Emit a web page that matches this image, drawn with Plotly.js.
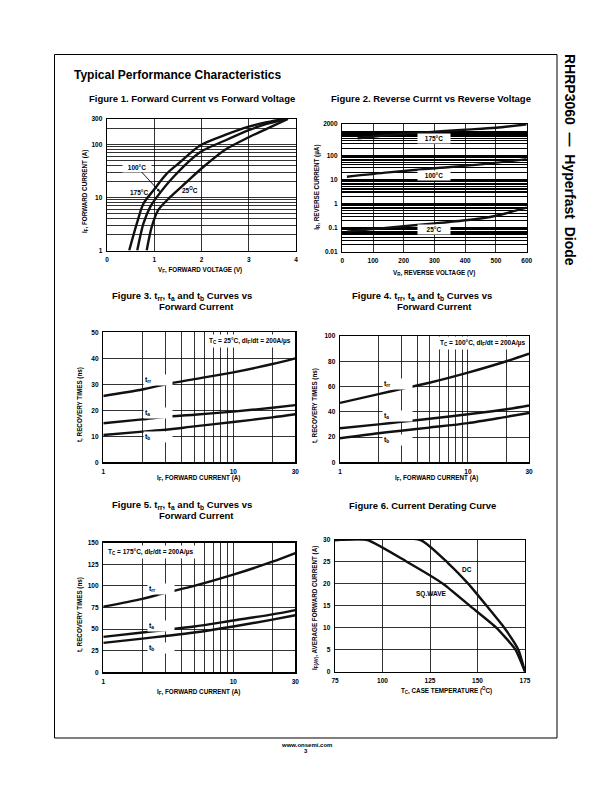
<!DOCTYPE html>
<html>
<head>
<meta charset="utf-8">
<script src="https://cdn.plot.ly/plotly-3.0.1.min.js"></script>
<style>html,body{margin:0;padding:0;background:#fff;}#chart{width:612px;height:792px;}</style>
</head>
<body>
<div id="chart"></div>
<script>
// ---------- DATA ----------
// Figure 1: forward current vs forward voltage
const vf175 = [0.47, 0.63, 0.77, 0.98, 1.26, 1.52, 1.97, 2.5, 3.0, 3.38, 3.76];
const if175 = [1, 3.2, 7.6, 13.5, 27.8, 44, 95, 150, 215, 261, 300];
const vf100 = [0.64, 0.77, 0.91, 1.05, 1.40, 1.97, 2.5, 3.0, 3.38, 3.80];
const if100 = [1, 3.2, 6.5, 10, 24, 71, 118, 185, 243, 300];
const vf25  = [0.84, 0.945, 1.08, 1.33, 1.68, 2.0, 2.5, 3.0, 3.4, 3.83];
const if25  = [1, 2.75, 5.7, 10, 19.3, 35, 79, 136, 200, 300];
const fig1XTicks = [0, 1, 2, 3, 4];
const fig1YTicks = [1, 10, 100, 300];

// Figure 2: reverse current vs reverse voltage
const vr175 = [50, 150, 300, 400, 500, 600];
const ir175 = [510, 700, 960, 1160, 1400, 1950];
const vr100 = [15, 150, 300, 450, 600];
const ir100 = [13, 19.7, 29, 42, 70];
const vr25  = [15, 150, 300, 450, 500, 600];
const ir25  = [0.068, 0.10, 0.15, 0.24, 0.31, 0.67];
const fig2XTicks = [0, 100, 200, 300, 400, 500, 600];
const fig2YTicks = [0.01, 0.1, 1, 10, 100, 2000];

// Figures 3-5: recovery times vs forward current
const ifwd = [1, 2, 3, 5, 10, 20, 30];
const trr25 = [25.5, 28, 30, 32, 34.6, 37.8, 40];
const ta25  = [15, 16.5, 17.5, 18.3, 19.5, 21, 22];
const tb25  = [10.5, 11.8, 12.5, 13.8, 15.5, 17.3, 18.5];
const trr100 = [47, 54, 58, 63, 71, 80, 86];
const ta100  = [27, 30, 32, 34.5, 38, 42, 45];
const tb100  = [19, 23, 25, 27.5, 31, 36, 39];
const trr175 = [76, 85, 92, 100, 113, 128, 138];
const ta175  = [41, 46, 49, 53, 60, 67, 72];
const tb175  = [34, 39, 42, 46, 53, 61, 66];
const ifTicks = [1, 10, 30];

// Figure 6: current derating
const dcT = [75, 120, 134.6, 145.2, 154.8, 164.1, 171.5, 175];
const dcI = [30, 30, 24.7, 20, 15, 10, 5, 0];
const sqT = [75, 92, 113, 132, 146, 160, 170, 175];
const sqI = [30, 30, 25, 20, 15, 10, 5, 0];

// ---------- HELPERS ----------
const W = 612, H = 792;
const FONT = 'Liberation Sans, Arial, Helvetica, sans-serif';
const px = v => v / W;
const py = v => 1 - v / H;
const dom = (a, b) => [px(a), px(b)];
const domY = (top, bottom) => [py(bottom), py(top)];

function logMinors(decades, extra) {
  const out = [];
  decades.forEach(d => { for (let k = 2; k <= 9; k++) out.push(+(d * k).toPrecision(3)); });
  return out.concat(extra || []);
}

const tickfont = {family: FONT, size: 6.5, color: '#000', weight: 'bold'};
function axis(o) {
  return Object.assign({
    showline: true, mirror: true, linecolor: '#000', linewidth: 1.4,
    showgrid: true, gridcolor: '#000', gridwidth: 0.8,
    zeroline: false, ticks: '', tickfont: tickfont, ticklabelstandoff: 2,
    fixedrange: true
  }, o);
}
const minorGrid = vals => ({tickmode: 'array', tickvals: vals, showgrid: true, gridcolor: '#000', gridwidth: 0.8, ticks: ''});

const curve = (x, y, xa, ya, smooth) => ({
  x: x, y: y, xaxis: xa, yaxis: ya, type: 'scatter', mode: 'lines',
  line: {color: '#111', width: 2.4, shape: 'spline', smoothing: smooth || 0.8},
  hoverinfo: 'skip'
});

const traces = [
  curve(vf175, if175, 'x', 'y'),
  curve(vf100, if100, 'x', 'y'),
  curve(vf25, if25, 'x', 'y'),
  curve(vr175, ir175, 'x2', 'y2'),
  curve(vr100, ir100, 'x2', 'y2'),
  curve(vr25, ir25, 'x2', 'y2'),
  curve(ifwd, trr25, 'x3', 'y3'),
  curve(ifwd, ta25, 'x3', 'y3'),
  curve(ifwd, tb25, 'x3', 'y3'),
  curve(ifwd, trr100, 'x4', 'y4'),
  curve(ifwd, ta100, 'x4', 'y4'),
  curve(ifwd, tb100, 'x4', 'y4'),
  curve(ifwd, trr175, 'x5', 'y5'),
  curve(ifwd, ta175, 'x5', 'y5'),
  curve(ifwd, tb175, 'x5', 'y5'),
  curve(dcT, dcI, 'x6', 'y6', 0.5),
  curve(sqT, sqI, 'x6', 'y6', 0.5)
];

const ifMinor = [2, 3, 4, 5, 6, 7, 8, 9, 20];

const layout = {
  width: W, height: H, margin: {l: 0, r: 0, t: 0, b: 0},
  paper_bgcolor: '#fff', plot_bgcolor: '#fff', showlegend: false,
  font: {family: FONT, color: '#000'},
  xaxis: axis({domain: dom(107, 296), range: [0, 4], tickmode: 'array', tickvals: fig1XTicks, anchor: 'y'}),
  yaxis: axis({domain: domY(119, 250.5), type: 'log', range: [0, Math.log10(300)], tickmode: 'array',
    tickvals: fig1YTicks, ticktext: fig1YTicks.map(String), anchor: 'x',
    minor: minorGrid(logMinors([1, 10], [200]))}),
  xaxis2: axis({domain: dom(342.3, 526.7), range: [0, 600], tickmode: 'array', tickvals: fig2XTicks, anchor: 'y2'}),
  yaxis2: axis({domain: domY(124, 251.7), type: 'log', range: [-2, Math.log10(2000)], tickmode: 'array',
    tickvals: fig2YTicks, ticktext: fig2YTicks.map(String), anchor: 'x2', gridwidth: 1.2,
    minor: Object.assign(minorGrid(logMinors([0.01, 0.1, 1, 10, 100], [1000])), {gridwidth: 1.1})}),
  xaxis3: axis({domain: dom(103.3, 295.3), type: 'log', range: [0, Math.log10(30)], tickmode: 'array',
    tickvals: ifTicks, ticktext: ifTicks.map(String), anchor: 'y3', minor: minorGrid(ifMinor)}),
  yaxis3: axis({domain: domY(332.3, 462.3), range: [0, 50], dtick: 10, anchor: 'x3'}),
  xaxis4: axis({domain: dom(340, 529), type: 'log', range: [0, Math.log10(30)], tickmode: 'array',
    tickvals: ifTicks, ticktext: ifTicks.map(String), anchor: 'y4', minor: minorGrid(ifMinor)}),
  yaxis4: axis({domain: domY(336, 462.3), range: [0, 100], dtick: 20, anchor: 'x4'}),
  xaxis5: axis({domain: dom(103.3, 295.3), type: 'log', range: [0, Math.log10(30)], tickmode: 'array',
    tickvals: ifTicks, ticktext: ifTicks.map(String), anchor: 'y5', minor: minorGrid(ifMinor)}),
  yaxis5: axis({domain: domY(542.7, 672.3), range: [0, 150], dtick: 25, anchor: 'x5'}),
  xaxis6: axis({domain: dom(335, 525), range: [75, 175], dtick: 25, anchor: 'y6'}),
  yaxis6: axis({domain: domY(540, 671.7), range: [0, 30], dtick: 5, anchor: 'x6'}),
  shapes: [
    {type: 'rect', xref: 'paper', yref: 'paper', x0: px(54.5), x1: px(557), y0: py(738), y1: py(54.5),
     line: {color: '#000', width: 1}, layer: 'below'}
  ],
  annotations: []
};

const A = layout.annotations;
const bold = (s) => ({family: FONT, size: s, color: '#000', weight: 'bold'});
function txt(text, x, y, o) {
  A.push(Object.assign({text: text, xref: 'paper', yref: 'paper', x: px(x), y: py(y),
    showarrow: false, xanchor: 'center', yanchor: 'middle', font: bold(6.5)}, o || {}));
}
const lbl = (w) => ({xanchor: 'left', align: 'left', bgcolor: '#fff', width: w, height: 8, font: bold(7)});

// Page titles
txt('Typical Performance Characteristics', 71.5, 74.5, {xanchor: 'left', font: bold(12)});
txt('RHRP3060\u00a0 \u2014 \u00a0Hyperfast\u00a0 Diode', 570, 160, {textangle: 90, font: bold(14)});
txt('www.onsemi.com', 306, 744.5, {font: bold(6)});
txt('3', 306, 751, {font: bold(6)});

// Figure titles
txt('Figure 1. Forward Current vs Forward Voltage', 191.7, 98.8, {font: bold(9.5)});
txt('Figure 2. Reverse Currnt vs Reverse Voltage', 430.5, 98.3, {font: bold(9.5)});
txt('Figure 3. t<sub>rr</sub>, t<sub>a</sub> and t<sub>b</sub> Curves vs', 181.8, 296, {font: bold(9.5)});
txt('Forward Current', 196.3, 306, {font: bold(9.5)});
txt('Figure 4. t<sub>rr</sub>, t<sub>a</sub> and t<sub>b</sub> Curves vs', 421.7, 296, {font: bold(9.5)});
txt('Forward Current', 434.7, 306, {font: bold(9.5)});
txt('Figure 5. t<sub>rr</sub>, t<sub>a</sub> and t<sub>b</sub> Curves vs', 181.8, 505, {font: bold(9.5)});
txt('Forward Current', 196.3, 515, {font: bold(9.5)});
txt('Figure 6. Current Derating Curve', 422.5, 505, {font: bold(9.5)});

// Axis titles
const at = bold(6.3);
txt('V<sub>F</sub>, FORWARD VOLTAGE (V)', 200, 270.5, {font: at});
txt('I<sub>F</sub>, FORWARD CURRENT (A)', 85, 192, {font: at, textangle: -90});
txt('V<sub>R</sub>, REVERSE VOLTAGE (V)', 433.5, 272.5, {font: at});
txt('I<sub>R</sub>, REVERSE CURRENT (\u00b5A)', 316.7, 187, {font: at, textangle: -90});
txt('I<sub>F</sub>, FORWARD CURRENT (A)', 198.3, 478.3, {font: at});
txt('t, RECOVERY TIMES (ns)', 80, 405, {font: at, textangle: -90});
txt('I<sub>F</sub>, FORWARD CURRENT (A)', 436, 478.3, {font: at});
txt('t, RECOVERY TIMES (ns)', 315, 405, {font: at, textangle: -90});
txt('I<sub>F</sub>, FORWARD CURRENT (A)', 198.3, 691.5, {font: at});
txt('t, RECOVERY TIMES (ns)', 80, 615, {font: at, textangle: -90});
txt('T<sub>C</sub>, CASE TEMPERATURE (<sup>O</sup>C)', 446, 690, {font: at});
txt('I<sub>F(AV)</sub>, AVERAGE FORWARD CURRENT (A)', 315, 608, {font: at, textangle: -90});

// Figure 1 labels
A.push({text: '100\u00b0C', xref: 'paper', yref: 'paper', x: px(160), y: py(192),
  ax: -23, ay: -25, showarrow: true, arrowhead: 2, arrowsize: 0.7, arrowwidth: 0.9, arrowcolor: '#000',
  bgcolor: '#fff', width: 26, height: 7, font: bold(6.5)});
txt('175\u00b0C', 138.5, 192);
txt('25<sup>O</sup>C', 190, 190);

// Figure 2 labels
txt('175\u00b0C', 434.3, 138.3, {bgcolor: '#fff', width: 30, height: 7});
txt('100\u00b0C', 433.5, 175, {bgcolor: '#fff', width: 30, height: 7});
txt('25\u00b0C', 433.5, 229.3, {bgcolor: '#fff', width: 30, height: 7});

// Figures 3-5 labels
txt('T<sub>C</sub> = 25\u00b0C, dI<sub>F</sub>/dt = 200A/\u00b5s', 293.5, 341, {xanchor: 'right', bgcolor: '#fff', borderpad: 2});
txt('t<sub>rr</sub>', 143, 379.5, lbl(26));
txt('t<sub>a</sub>', 143, 412.5, lbl(26));
txt('t<sub>b</sub>', 143, 437, lbl(26));

txt('T<sub>C</sub> = 100\u00b0C, dI<sub>F</sub>/dt = 200A/\u00b5s', 527.5, 342.7, {xanchor: 'right', bgcolor: '#fff', borderpad: 2});
txt('t<sub>rr</sub>', 382, 383.5, lbl(27));
txt('t<sub>a</sub>', 382, 415.5, lbl(27));
txt('t<sub>b</sub>', 382, 440, lbl(27));

txt('T<sub>C</sub> = 175\u00b0C, dI<sub>F</sub>/dt = 200A/\u00b5s', 105, 551.7, {xanchor: 'left', bgcolor: '#fff', borderpad: 2});
txt('t<sub>rr</sub>', 147, 588.5, lbl(24));
txt('t<sub>a</sub>', 147, 625.5, lbl(24));
txt('t<sub>b</sub>', 147, 647.5, lbl(24));

// Figure 6 labels
txt('DC', 466.7, 569);
txt('SQ.WAVE', 431.7, 594.3);

Plotly.newPlot('chart', traces, layout, {staticPlot: true, displayModeBar: false});
</script>
</body>
</html>
